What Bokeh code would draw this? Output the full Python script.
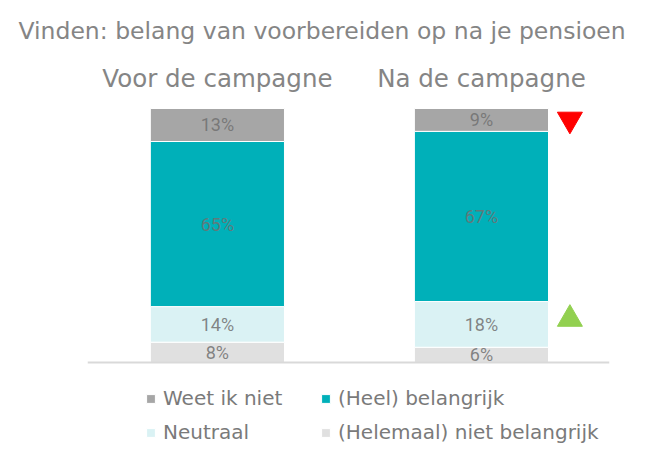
from bokeh.plotting import figure
from bokeh.models import Range1d, FixedTicker, Legend, LegendItem, Span, ColumnDataSource
from bokeh.core.properties import value
from bokeh.embed import file_html
from bokeh.resources import INLINE

# ---- data ----
title_text = "Vinden: belang van voorbereiden op na je pensioen"
categories = ["Voor de campagne", "Na de campagne"]
series_names = ["(Helemaal) niet belangrijk", "Neutraal", "(Heel) belangrijk", "Weet ik niet"]  # bottom -> top
niet_belangrijk = [8, 6]
neutraal = [14, 18]
belangrijk = [65, 67]
weet_ik_niet = [13, 9]
colors = ["#e0e0e0", "#daf2f4", "#00b0b9", "#a6a6a6"]
# legend is filled column by column
legend_order = ["Weet ik niet", "Neutraal", "(Heel) belangrijk", "(Helemaal) niet belangrijk"]

# change indicators next to the second bar
ind_y = [95.7, 17.1]
ind_marker = ["inverted_triangle", "triangle"]
ind_color = ["#ff0000", "#92d050"]

# ---- build ----
keys = ["niet", "neutraal", "belangrijk", "weet"]
values = [niet_belangrijk, neutraal, belangrijk, weet_ik_niet]
xs = list(range(len(categories)))
source = ColumnDataSource(dict(x=xs, **{k: v for k, v in zip(keys, values)}))

FONT = "DejaVu Sans"
GREY = "#858585"

p = figure(width=630, height=444, output_backend="svg", toolbar_location=None,
           x_axis_location="above", y_axis_location=None,
           x_range=Range1d(-0.492, 1.485), y_range=Range1d(-32.28, 101.57),
           min_border_left=87, min_border_right=21, min_border_top=104, min_border_bottom=0)

p.title.text = title_text
p.title.text_font = FONT
p.title.text_font_size = "23.5px"
p.title.text_font_style = "normal"
p.title.text_color = GREY
p.title.align = "left"
p.title.vertical_align = "top"
p.title.offset = -69
p.title.standoff = 28

p.outline_line_color = None
p.xgrid.visible = False
p.ygrid.visible = False

ax = p.xaxis[0]
ax.ticker = FixedTicker(ticks=xs)
ax.major_label_overrides = {i: c for i, c in zip(xs, categories)}
ax.axis_line_color = None
ax.major_tick_line_color = None
ax.minor_tick_line_color = None
ax.major_tick_out = 0
ax.major_tick_in = 0
ax.minor_tick_out = 0
ax.major_label_text_font = FONT
ax.major_label_text_font_size = "24.5px"
ax.major_label_text_color = GREY
ax.major_label_standoff = 12

renderers = p.vbar_stack(keys, x="x", width=0.508, color=colors, line_color="white",
                         line_width=1, source=source)

# value labels in the middle of every segment
lx, ly, lt = [], [], []
for ci, x in enumerate(xs):
    base = 0
    for vals in values:
        v = vals[ci]
        lx.append(x)
        ly.append(base + v / 2)
        lt.append(f"{v}%")
        base += v
p.text(x="x", y="y", text="t", source=ColumnDataSource(dict(x=lx, y=ly, t=lt)),
       text_align="center", text_baseline="middle", text_font=value("Roboto"),
       text_font_size="18px", text_color="#707070", text_alpha=0.85)

# baseline
p.add_layout(Span(location=0, dimension="width", line_color="#d9d9d9", line_width=2))

# indicators
ind_x = [xs[1] + 0.335] * len(ind_y)
p.scatter(x=ind_x, y=ind_y, marker=ind_marker, color=ind_color, size=25)

name_to_r = {n: r for n, r in zip(series_names, renderers)}
items = [LegendItem(label=n, renderers=[name_to_r[n]]) for n in legend_order]
legend = Legend(items=items, ncols=2, location=(58, 0), padding=0, margin=0,
                border_line_color=None, background_fill_alpha=0,
                label_text_font=FONT, label_text_font_size="20px", label_text_color="#7a7a7a",
                glyph_width=11, glyph_height=11, label_standoff=7, label_width=147, spacing=10)
p.add_layout(legend)

open("out.html", "w").write(file_html(p, INLINE))
